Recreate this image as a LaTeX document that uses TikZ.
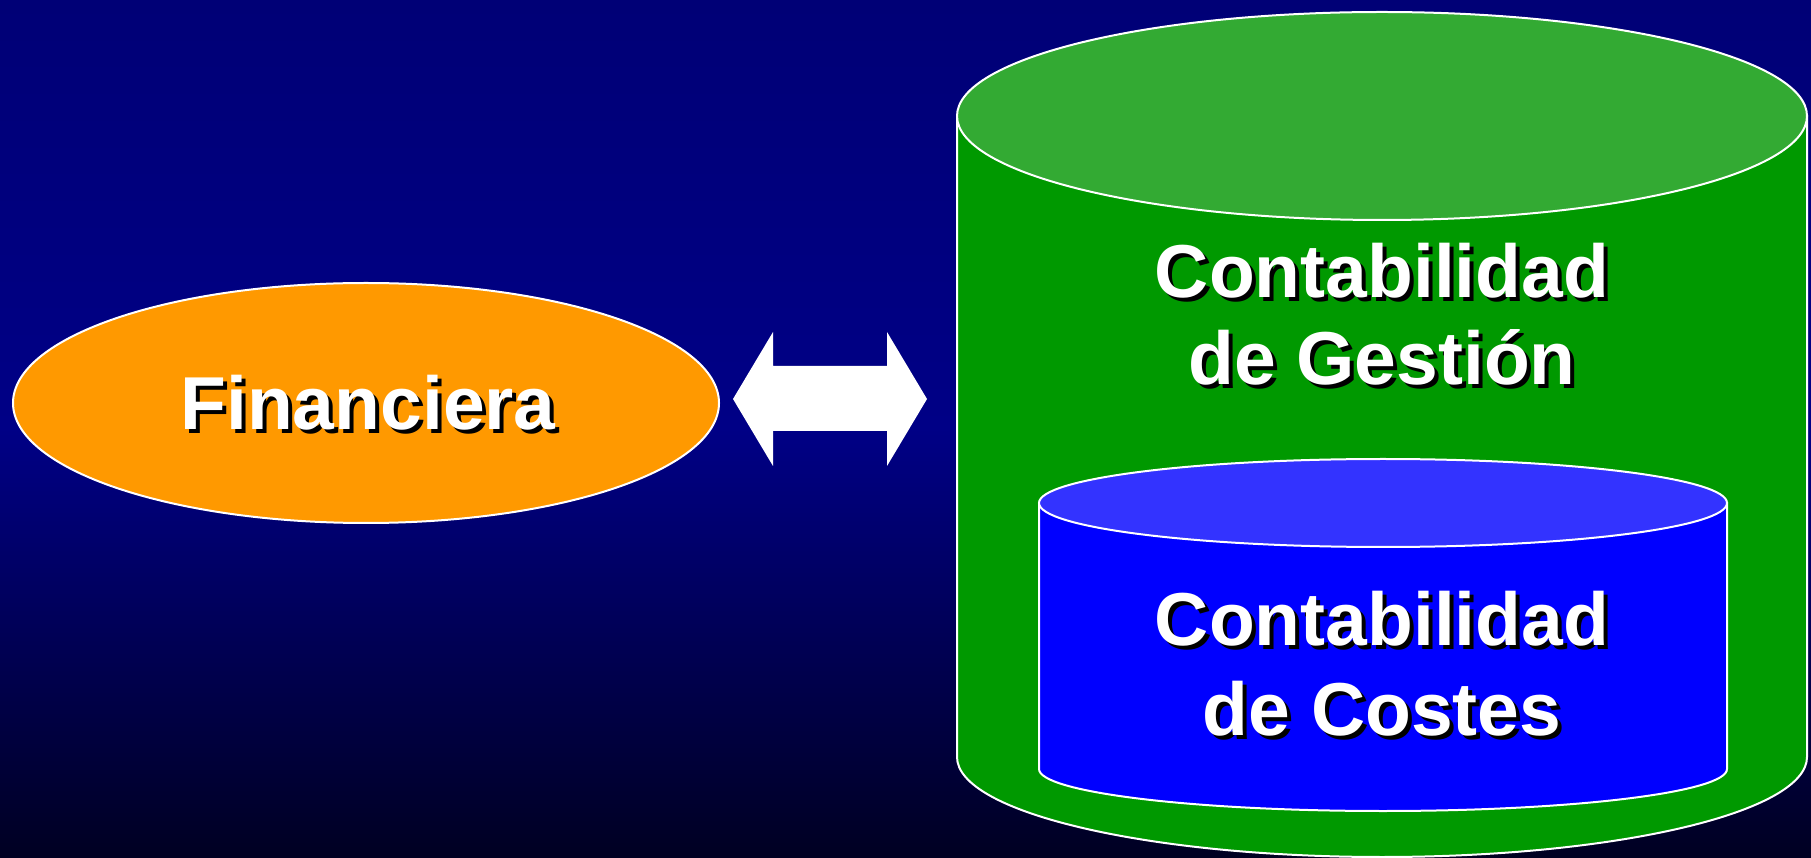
\documentclass[tikz,border=0pt]{standalone}
\usepackage{fontspec}
\setmainfont{Liberation Sans}
\definecolor{bgtop}{RGB}{0,0,118}
\definecolor{bgmid}{RGB}{0,0,134}
\definecolor{bgbot}{RGB}{0,0,34}
\definecolor{orangefill}{RGB}{255,153,0}
\definecolor{greenside}{RGB}{0,153,0}
\definecolor{greentop}{RGB}{51,170,51}
\definecolor{blueside}{RGB}{0,0,255}
\definecolor{bluetop}{RGB}{51,51,255}
\pgfdeclareverticalshading{bgshade}{100bp}{color(0bp)=(bgbot); color(25bp)=(bgbot); color(50bp)=(bgmid); color(75bp)=(bgtop); color(100bp)=(bgtop)}
\tikzset{
  outline/.style={draw=white, line width=2pt},
  lbl/.style={inner sep=0pt, anchor=base, align=center, font=\fontsize{75}{75}\selectfont\bfseries},
}
\newcommand{\shtext}[3]{%
  \node[lbl, text=black] (#1s) at ($(#2)+(4,-4)$) {#3};
  \node[lbl, text=white] (#1) at (#2) {#3};
}
\usetikzlibrary{calc}
\begin{document}
\begin{tikzpicture}[x=1pt,y=1pt]
\useasboundingbox (0,0) rectangle (1811,857);
% background
\shade[shading=bgshade] (0,0) rectangle (1811,857);
% Financiera ellipse
\draw[outline, fill=orangefill] (366,454) ellipse [x radius=353, y radius=120];
\coordinate (finpos) at (368,427);
\shtext{fin}{finpos}{Financiera}
% double arrow
\fill[white] (733,458) -- (773,525) -- (773,491) -- (887,491) -- (887,525) -- (927,458)
  -- (887,391) -- (887,426) -- (773,426) -- (773,391) -- cycle;
% big cylinder
\draw[outline, fill=greenside] (957,741) -- (957,100)
  arc[start angle=180, end angle=360, x radius=425, y radius=100] -- (1807,741) -- cycle;
\draw[outline, fill=greentop] (1382,741) ellipse [x radius=425, y radius=104];
% small cylinder
\draw[outline, fill=blueside] (1039,354) -- (1039,88)
  arc[start angle=180, end angle=360, x radius=344, y radius=42] -- (1727,354) -- cycle;
\draw[outline, fill=bluetop] (1383,354) ellipse [x radius=344, y radius=44];
% texts
\coordinate (g1) at (1382,559);
\coordinate (g2) at (1382,472);
\coordinate (c1) at (1382,212);
\coordinate (c2) at (1382,122);
\shtext{gest1}{g1}{Contabilidad}
\shtext{gest2}{g2}{de Gestión}
\shtext{cost1}{c1}{Contabilidad}
\shtext{cost2}{c2}{de Costes}
\end{tikzpicture}
\end{document}
